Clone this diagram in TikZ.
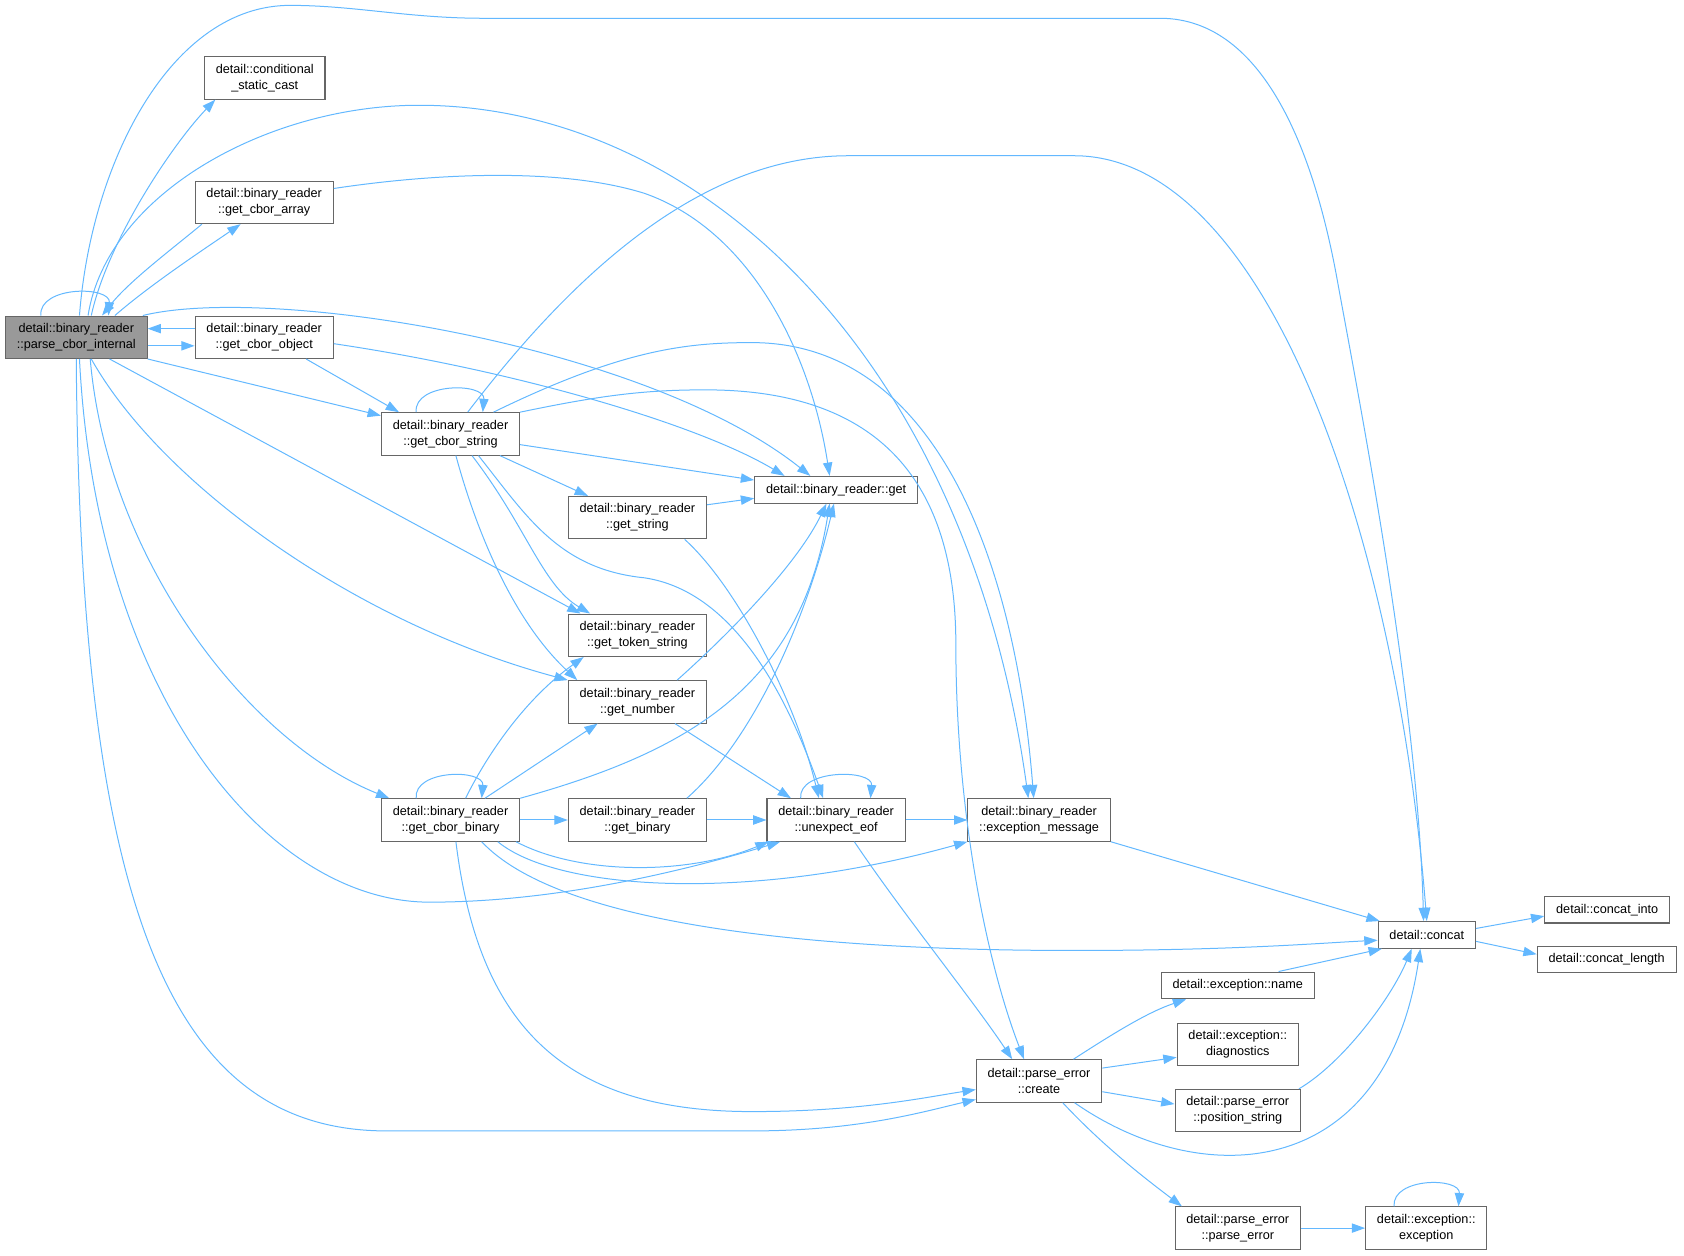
\documentclass[tikz,border=0pt]{standalone}
\usepackage{fontspec}
\setmainfont{Liberation Sans}
\usepackage{tikz}
\usetikzlibrary{calc,arrows.meta}
\definecolor{callblue}{RGB}{99,184,255}
\definecolor{boxgray}{RGB}{102,102,102}
\definecolor{rootgray}{RGB}{153,153,153}

\begin{document}
\begin{tikzpicture}[x=0.8055pt,y=0.8055pt,
		fn/.style={draw=boxgray,line width=0.8pt,fill=white,align=center,font=\fontsize{9.5}{12}\selectfont,inner xsep=8.5pt,inner ysep=0pt,minimum height=31.8pt},
		fn1/.style={fn,minimum height=20pt},
		root/.style={fill=rootgray},
		call/.style={draw=callblue,line width=0.75pt,-{Triangle[length=10pt,width=7pt]}}]
		\useasboundingbox (0,0) rectangle (1568,-1168.6);

		\node[fn,root](0)at(71,-314) {detail::binary\_reader\\::parse\_cbor\_internal};
		\node[fn](1)at(246.5,-72.5) {detail::conditional\\\_static\_cast};
		\node[fn](2)at(246,-188.5) {detail::binary\_reader\\::get\_cbor\_array};
		\node[fn](3)at(246,-314) {detail::binary\_reader\\::get\_cbor\_object};
		\node[fn](4)at(419.5,-404) {detail::binary\_reader\\::get\_cbor\_string};
		\node[fn1](5)at(778.5,-456) {detail::binary\_reader::get};
		\node[fn](6)at(593.5,-482) {detail::binary\_reader\\::get\_string};
		\node[fn](7)at(593.5,-591.5) {detail::binary\_reader\\::get\_token\_string};
		\node[fn](8)at(593.5,-653.5) {detail::binary\_reader\\::get\_number};
		\node[fn](9)at(419.5,-763.5) {detail::binary\_reader\\::get\_cbor\_binary};
		\node[fn](10)at(593.5,-763.5) {detail::binary\_reader\\::get\_binary};
		\node[fn](11)at(778.5,-763.5) {detail::binary\_reader\\::unexpect\_eof};
		\node[fn](12)at(967.5,-763.5) {detail::binary\_reader\\::exception\_message};
		\node[fn1](13)at(1328.5,-870.5) {detail::concat};
		\node[fn1](14)at(1496.5,-847) {detail::concat\_into};
		\node[fn1](15)at(1496,-893.5) {detail::concat\_length};
		\node[fn1](16)at(1152.5,-917.5) {detail::exception::name};
		\node[fn](17)at(1152.5,-972.5) {detail::exception::\\diagnostics};
		\node[fn](18)at(967.5,-1006.5) {detail::parse\_error\\::create};
		\node[fn](19)at(1152.5,-1034) {detail::parse\_error\\::position\_string};
		\node[fn](20)at(1152.5,-1143.5) {detail::parse\_error\\::parse\_error};
		\node[fn](21)at(1328,-1143.5) {detail::exception::\\exception};

		\draw[call]($(0.north)+(-33,0)$) .. controls (36,-266) and (103,-266) .. ($(0.north)+(30,0)$);
		\draw[call]($(0.north)+(14,0)$) .. controls (100,-225) and (160,-135) .. ($(1.south)+(-46,0)$);
		\draw[call]($(0.north)+(36,0)$) .. controls (140,-265) and (190,-232) .. ($(2.south)+(-22,0)$);
		\draw[call]($(2.south)+(-58,0)$) .. controls (160,-232) and (120,-262) .. ($(0.north)+(24,0)$);
		\draw[call]($(3.west)+(0,8)$) -- ($(0.east)+(0,8)$);
		\draw[call]($(0.east)+(0,-8)$) -- ($(3.west)+(0,-8)$);
		\draw[call](0.south east) -- ($(4.west)+(0,17)$);
		\draw[call]($(0.south)+(13,0)$) .. controls (100,-520) and (230,-690) .. ($(9.north)+(-57,0)$);
		\draw[call]($(0.north)+(62,0)$) .. controls (250,-265) and (600,-320) .. ($(5.north)+(-24,0)$);
		\draw[call]($(0.north)+(11,0)$) .. controls (100,-180) and (250,-98) .. (390,-98) .. controls (650,-98) and (900,-330) .. ($(12.north)+(-10,0)$);
		\draw[call]($(0.north)+(3,0)$) .. controls (85,-150) and (160,-5) .. (270,-5) .. controls (330,-5) and (380,-17) .. (450,-17) -- (1080,-17) .. controls (1180,-17) and (1225,-150) .. (1245,-260) .. controls (1265,-370) and (1320,-650) .. ($(13.north)+(-3,0)$);
		\draw[call]($(0.south)+(31,0)$) -- ($(7.north)+(-53,0)$);
		\draw[call]($(0.south)+(14,0)$) .. controls (150,-450) and (330,-580) .. (8.north west);
		\draw[call]($(0.south)+(3,0)$) .. controls (90,-650) and (250,-840) .. (400,-840) .. controls (520,-840) and (640,-810) .. ($(11.south)+(-52,0)$);
		\draw[call](0.south) .. controls (75,-850) and (160,-1053) .. (360,-1053) -- (700,-1053) .. controls (800,-1053) and (860,-1035) .. ($(18.south west)+(0,3)$);

		\draw[call]($(2.east)+(0,13)$) .. controls (400,-162) and (520,-155) .. (600,-180) .. controls (700,-215) and (755,-330) .. ($(5.north)+(-6,0)$);
		\draw[call]($(3.east)+(0,-6)$) .. controls (480,-345) and (650,-395) .. ($(5.north)+(-48,0)$);
		\draw[call]($(3.south)+(39,0)$) -- ($(4.north)+(-48,0)$);

		\draw[call]($(4.north)+(-32,0)$) .. controls (385,-356) and (452,-356) .. ($(4.north)+(30,0)$);
		\draw[call]($(4.north)+(16,0)$) .. controls (530,-260) and (650,-145) .. (790,-145) -- (1000,-145) .. controls (1180,-145) and (1300,-500) .. (13.north);
		\draw[call]($(4.north)+(40,0)$) .. controls (580,-325) and (640,-319) .. (700,-319) .. controls (870,-319) and (945,-520) .. ($(12.north)+(-5,0)$);
		\draw[call](4.north east) .. controls (560,-368) and (600,-363) .. (657,-363) .. controls (800,-363) and (890,-430) .. (890,-600) .. controls (890,-760) and (920,-900) .. ($(18.north)+(-14,0)$);
		\draw[call]($(4.east)+(0,-10)$) -- ($(5.west)+(0,9)$);
		\draw[call]($(4.south)+(46,0)$) -- ($(6.north)+(-46,0)$);
		\draw[call]($(4.south)+(20,0)$) .. controls (490,-490) and (505,-545) .. ($(7.north)+(-44,0)$);
		\draw[call]($(4.south)+(5,0)$) .. controls (445,-500) and (480,-580) .. ($(8.north)+(-56,0)$);
		\draw[call]($(4.south)+(26,0)$) .. controls (490,-480) and (520,-530) .. (600,-538) .. controls (680,-550) and (730,-640) .. ($(11.north)+(-12,0)$);

		\draw[call]($(6.east)+(0,12)$) -- ($(5.west)+(0,-8)$);
		\draw[call]($(6.south)+(44,0)$) .. controls (685,-545) and (740,-650) .. ($(11.north)+(-16,0)$);
		\draw[call]($(8.north)+(37,0)$) .. controls (690,-580) and (745,-520) .. ($(5.south)+(-9,0)$);
		\draw[call]($(8.south)+(35,0)$) -- ($(11.north)+(-42,0)$);

		\draw[call]($(9.north)+(-32,0)$) .. controls (385,-716) and (451,-716) .. ($(9.north)+(29,0)$);
		\draw[call]($(9.north)+(14,0)$) .. controls (455,-700) and (490,-650) .. ($(7.south)+(-50,0)$);
		\draw[call]($(9.north)+(32,0)$) -- ($(8.south)+(-37,0)$);
		\draw[call](9.north east) .. controls (640,-700) and (745,-640) .. ($(5.south)+(-6,0)$);
		\draw[call](9.east) -- (10.west);
		\draw[call]($(9.south)+(61,0)$) .. controls (540,-815) and (640,-815) .. ($(11.south west)+(2,0)$);
		\draw[call]($(9.south)+(44,0)$) .. controls (520,-830) and (700,-840) .. (12.south west);
		\draw[call]($(9.south)+(29,0)$) .. controls (520,-860) and (750,-885) .. (1000,-885) .. controls (1150,-885) and (1230,-878) .. ($(13.west)+(0,-5)$);
		\draw[call]($(9.south)+(5,0)$) .. controls (445,-950) and (520,-1035) .. (700,-1035) .. controls (800,-1035) and (860,-1022) .. ($(18.west)+(0,-8)$);

		\draw[call]($(10.north)+(46,0)$) .. controls (700,-690) and (750,-580) .. ($(5.south)+(-2,0)$);
		\draw[call](10.east) -- (11.west);

		\draw[call]($(11.north)+(-33,0)$) .. controls (743,-716) and (813,-716) .. ($(11.north)+(32,0)$);
		\draw[call](11.east) -- (12.west);
		\draw[call]($(11.south)+(17,0)$) .. controls (840,-850) and (905,-930) .. ($(18.north)+(-25,0)$);

		\draw[call](12.south east) -- ($(13.north west)+(2,0)$);
		\draw[call]($(13.east)+(0,6)$) -- ($(14.west)+(0,-6)$);
		\draw[call]($(13.east)+(0,-6)$) -- ($(15.west)+(0,5)$);
		\draw[call]($(16.north)+(38,0)$) -- ($(13.south west)+(4,0)$);

		\draw[call]($(18.north)+(32,0)$) .. controls (1040,-960) and (1070,-942) .. ($(16.south)+(-48,0)$);
		\draw[call]($(18.east)+(0,12)$) -- ($(17.west)+(0,-12)$);
		\draw[call]($(18.east)+(0,-10)$) -- ($(19.west)+(0,6)$);
		\draw[call]($(19.north)+(57,0)$) .. controls (1250,-990) and (1295,-930) .. ($(13.south)+(-14,0)$);
		\draw[call]($(18.south)+(33,0)$) .. controls (1120,-1110) and (1290,-1100) .. ($(13.south)+(-6,0)$);
		\draw[call]($(18.south)+(22,0)$) .. controls (1030,-1070) and (1070,-1100) .. ($(20.north)+(-52,0)$);
		\draw[call](20.east) -- (21.west);
		\draw[call]($(21.north)+(-30,0)$) .. controls (1296,-1096) and (1360,-1096) .. ($(21.north)+(30,0)$);
	\end{tikzpicture}
\end{document}
